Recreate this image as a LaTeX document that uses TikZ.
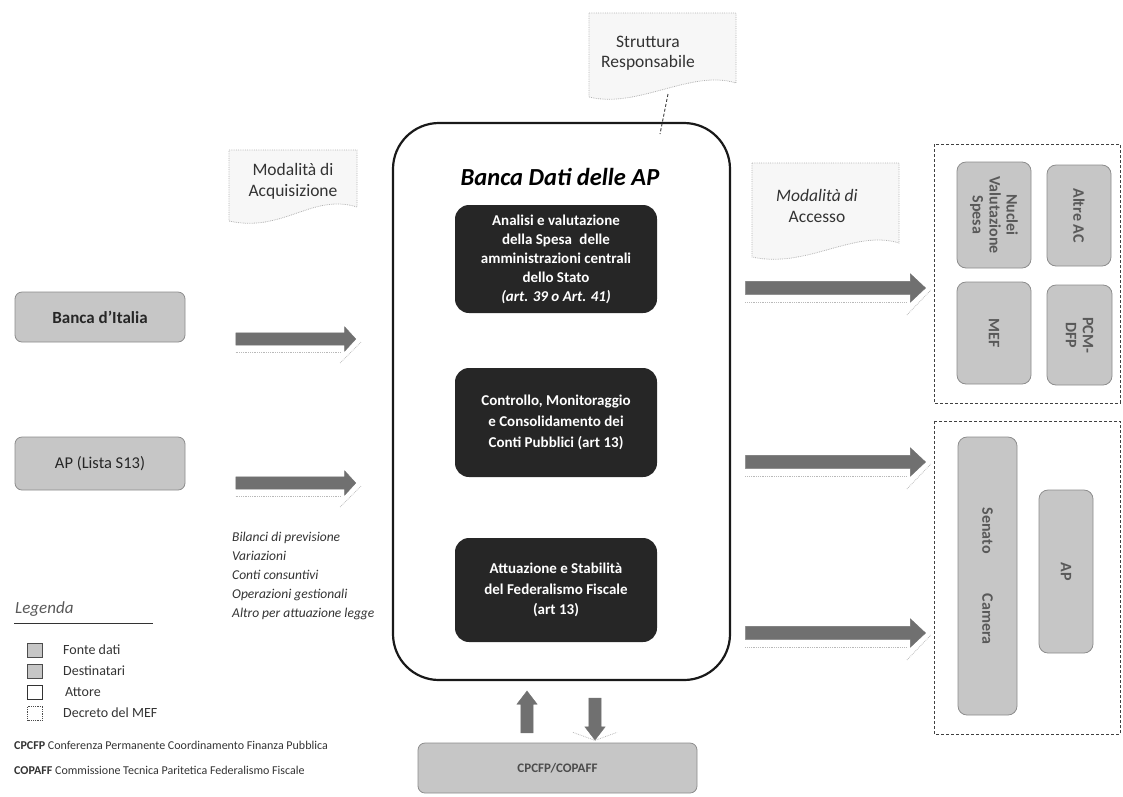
\documentclass[tikz,border=0pt]{standalone}
\usepackage{fontspec}
\setmainfont{Carlito}
\usetikzlibrary{shapes.arrows,calc}

\definecolor{boxgray}{HTML}{C6C6C6}
\definecolor{boxedge}{HTML}{8C8C8C}
\definecolor{darkfill}{HTML}{262626}
\definecolor{arrowgray}{HTML}{707070}

\pgfdeclarelayer{background}
\pgfsetlayers{background,main}

\tikzset{
  mainbox/.style={draw=black!90, line width=2.2pt, rounded corners=46pt,
    minimum width=337pt, minimum height=557pt, inner sep=0pt},
  darkbox/.style={fill=darkfill, rounded corners=14pt, text=white,
    font=\bfseries\fontsize{15}{19}\selectfont, align=center,
    minimum width=202pt, inner sep=0pt},
  srcbox/.style={fill=boxgray, draw=boxedge, line width=0.8pt, rounded corners=7pt,
    font=\bfseries\fontsize{17}{20}\selectfont, text=black!85,
    minimum width=170pt, inner sep=0pt},
  dstbox/.style={fill=boxgray, draw=boxedge, line width=0.8pt, rounded corners=9pt,
    font=\bfseries\fontsize{16}{17}\selectfont, text=black!65,
    inner sep=0pt, align=center},
  groupbox/.style={draw=black!75, densely dashed, line width=0.8pt},
  hblock/.style={single arrow, fill=arrowgray, draw=black!55, line width=0.4pt,
    text height=0pt, text depth=0pt, text width=0pt, inner xsep=0pt},
  leftarrow/.style={hblock, inner ysep=6pt, single arrow head extend=6pt,
    single arrow tip angle=95, minimum height=120pt},
  rightarrow/.style={hblock, inner ysep=6.5pt, single arrow head extend=7.5pt,
    single arrow tip angle=86, minimum height=180pt},
  vblock/.style={hblock, inner ysep=6pt, single arrow head extend=4pt,
    single arrow tip angle=75, minimum height=42pt},
  refl/.style={draw=gray!55, line width=0.8pt, densely dotted},
  callout/.style={fill=gray!6, draw=gray!60, line width=0.8pt, densely dotted},
  calltext/.style={font=\fontsize{17.5}{21}\selectfont, align=center, text=black!80, inner sep=0pt},
  listtext/.style={font=\itshape\fontsize{13.5}{15}\selectfont, text=black!80, anchor=base west, inner sep=0pt},
  legtext/.style={font=\fontsize{14}{16}\selectfont, text=black!80, anchor=west, inner sep=0pt},
  legsq/.style={minimum width=15pt, minimum height=14pt, inner sep=0pt, line width=0.8pt},
}

% wavy-bottomed note drawn behind a text node:
% #1 node, #2 left, #3 right, #4 top, #5 bottom (offsets from its centre)
\newcommand\wavecallout[5]{%
  \begin{pgfonlayer}{background}
    \path[callout] ($(#1.center)+(-#2,-#4)$) -- ($(#1.center)+(#3,-#4)$)
      -- ($(#1.center)+(#3,#5-14)$)
      .. controls ($(#1.center)+(#3-45,#5-28)$) and ($(#1.center)+(-10,#5+12)$)
      .. ($(#1.center)+(-#2,#5)$) -- cycle;
  \end{pgfonlayer}}

\begin{document}
\begin{tikzpicture}[x=1pt,y=-1pt]
\useasboundingbox (0,0) rectangle (1123,796);

% central data bank
\node[mainbox] (bd) at (561.5,401.5) {};
\node[font=\bfseries\itshape\fontsize{24.5}{28}\selectfont, inner sep=0pt] (title) at (560,177) {Banca Dati delle AP};

\node[darkbox, minimum height=108pt] (d1) at (556,259)
  {Analisi e valutazione\\della Spesa\enspace delle\\amministrazioni centrali\\dello Stato\\{\itshape (art. 39 o Art. 41)}};
\node[darkbox, minimum height=109pt, font=\bfseries\fontsize{15}{21}\selectfont] (d2) at (556,422.5)
  {Controllo, Monitoraggio\\e Consolidamento dei\\Conti Pubblici (art 13)};
\node[darkbox, minimum height=104pt, font=\bfseries\fontsize{15}{20.5}\selectfont] (d3) at (556,590)
  {Attuazione e Stabilità\\del Federalismo Fiscale\\(art 13)};

% notes
\node[calltext] (acq) at (293,181) {Modalità di\\Acquisizione};
\wavecallout{acq}{64}{64}{31}{40}
\node[calltext, font=\fontsize{17.5}{20}\selectfont] (sr) at (648,53) {Struttura\\Responsabile};
\wavecallout{sr}{59}{88}{40}{44}
\node[calltext] (acc) at (817,206) {{\itshape Modalità di}\\Accesso};
\wavecallout{acc}{65}{82}{43}{51}

\coordinate (srfoot) at (668,94);
\coordinate (srtip) at (660,134);
\draw[densely dashed, line width=0.9pt, black!80] (srfoot) -- (srtip);

% data sources
\node[srcbox, minimum height=50pt] (bi) at (100,317) {Banca d'Italia};
\node[srcbox, minimum height=53pt, font=\fontsize{16.5}{20}\selectfont] (ap) at (100,463.5) {AP (Lista S13)};

\node[leftarrow] (a1) at (293,339) {};
\node[leftarrow] (a2) at (293,483) {};
\foreach \a in {a1,a2}{
  \draw[refl] ($(\a.west)+(0,13)$) -- ($(\a.east)+(-16,13)$);
  \draw[refl] ($(\a.east)+(-16,24)$) -- ($(\a.east)+(5,3)$);
}

\foreach \t [count=\i] in {Bilanci di previsione,Variazioni,Conti consuntivi,Operazioni gestionali,Altro per attuazione legge}{
  \node[listtext] (l\i) at (232,522+19*\i) {\t};
}

% recipients
\node[rightarrow] (r1) at (832,288) {};
\node[rightarrow] (r2) at (832,462) {};
\node[rightarrow] (r3) at (832,633) {};
\foreach \a in {r1,r2,r3}{
  \draw[refl] ($(\a.west)+(0,14)$) -- ($(\a.east)+(-19,14)$);
  \draw[refl] ($(\a.east)+(-19,27)$) -- ($(\a.east)+(5,2)$);
}

\draw[groupbox] (934,144) rectangle (1120,403);
\draw[groupbox] (934,421) rectangle (1120,734);

\node[dstbox, rotate=-90, minimum width=106pt, minimum height=74pt] (nvs) at (994,215) {Nuclei\\Valutazione\\Spesa};
\node[dstbox, rotate=-90, minimum width=101pt, minimum height=64pt] (aac) at (1079,215.5) {Altre AC};
\node[dstbox, rotate=-90, minimum width=102pt, minimum height=74pt] (mef) at (994,333) {MEF};
\node[dstbox, rotate=-90, minimum width=100pt, minimum height=65pt] (pcm) at (1079.5,335) {PCM-\\DFP};
\node[dstbox, rotate=-90, minimum width=278pt, minimum height=59pt] (sc) at (987.5,576) {Senato\hspace{40pt}Camera};
\node[dstbox, rotate=-90, minimum width=163pt, minimum height=54pt] (apr) at (1066,571.5) {AP};

% conference / commission
\node[srcbox, minimum width=279pt, minimum height=50pt, font=\bfseries\fontsize{13}{16}\selectfont, text=black!70] (cc) at (557.5,768) {CPCFP/COPAFF};
\node[vblock, rotate=90] (up) at (527,716) {};
\node[vblock, rotate=-90] (dn) at (595,715) {};
\draw[refl] ($(dn.east)+(-22,-8)$) -- (dn.east) -- ($(dn.east)+(22,-8)$);

% legend
\node[font=\itshape\fontsize{17}{19}\selectfont, text=black!65, anchor=west, inner sep=0pt] (lg) at (15,609) {Legenda};
\coordinate (lgl) at (14,623);
\coordinate (lgr) at (153,623);
\draw[line width=0.9pt, black!80] (lgl) -- (lgr);

\node[legsq, fill=boxgray, draw=black!70] (s1) at (35,650) {};
\node[legsq, fill=boxgray, draw=black!70] (s2) at (35,671) {};
\node[legsq, fill=white, draw=black!80] (s3) at (35,692) {};
\node[legsq, fill=white, draw=black!70, densely dotted] (s4) at (35,713) {};
\node[legtext] (t1) at (63,650) {Fonte dati};
\node[legtext] (t2) at (63,671) {Destinatari};
\node[legtext] (t3) at (65,692) {Attore};
\node[legtext] (t4) at (63,713) {Decreto del MEF};

\node[legtext, anchor=base west, font=\fontsize{12}{14}\selectfont] (k1) at (14,749) {\textbf{CPCFP} Conferenza Permanente Coordinamento Finanza Pubblica};
\node[legtext, anchor=base west, font=\fontsize{12}{14}\selectfont] (k2) at (14,774) {\textbf{COPAFF} Commissione Tecnica Paritetica Federalismo Fiscale};
\end{tikzpicture}
\end{document}
